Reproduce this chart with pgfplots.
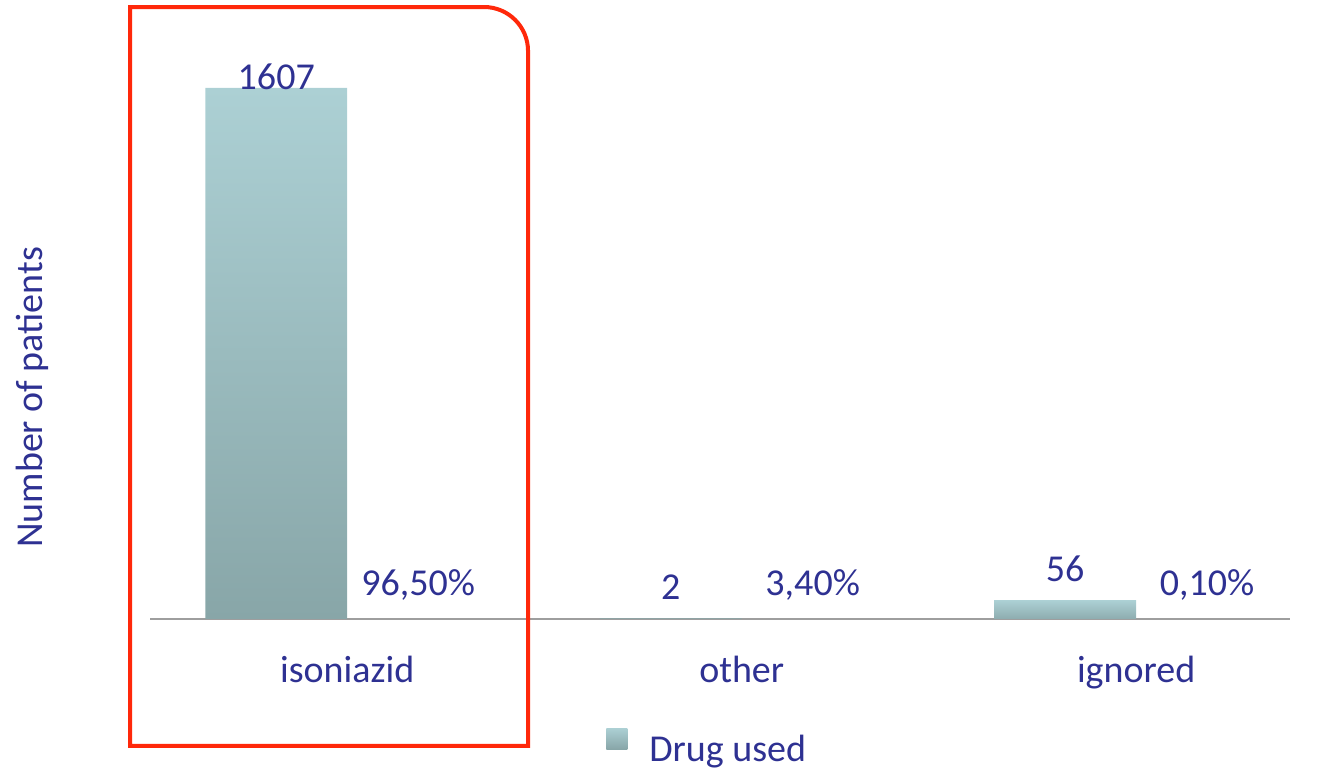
\documentclass[border=0pt]{standalone}
\usepackage{fontspec}
\setmainfont{Carlito}
\usepackage{pgfplots}
\pgfplotsset{compat=1.18}
\definecolor{txtblue}{RGB}{46,49,146}
\definecolor{barTop}{RGB}{172,208,212}
\definecolor{barBot}{RGB}{136,166,168}
\definecolor{boxred}{RGB}{255,40,10}
\newcommand\fs{\fontsize{19}{23}\selectfont}

\begin{document}
\begin{tikzpicture}
\begin{axis}[
    scale only axis,
    width=570pt, height=299.5pt,
    xmin=-0.5, xmax=2.39,
    ymin=0, ymax=1812,
    ybar=0pt, bar width=71pt,
    axis x line*=bottom,
    axis y line*=left,
    x axis line style={draw=black!38, line width=0.8pt},
    y axis line style={draw=none},
    xtick={0,1,2},
    xticklabels={isoniazid,other,ignored},
    xtick style={draw=none},
    ytick=\empty,
    tick label style={font=\fs, text=txtblue},
    xticklabel style={yshift=-11pt},
    ylabel={Number of patients},
    ylabel style={font=\fs, text=txtblue, at={(axis description cs:-0.1035,0.37)}, anchor=center},
    clip=false,
    nodes near coords,
    point meta=explicit symbolic,
    nodes near coords style={font=\fs, text=txtblue},
    legend style={at={(axis description cs:0.4896,-0.2163)}, anchor=center, draw=none,
        font=\fs, text=txtblue, fill=none},
    legend cell align=left,
]
% drug used (patients)
\addplot[draw=none, top color=barTop, bottom color=barBot, bar shift=-35.5pt,
    visualization depends on={y \as \rawy},
    nodes near coords style={yshift={ifthenelse(\rawy>1000,-4.5,6)}},
    legend image code/.code={\shade[top color=barTop, bottom color=barBot] (-19.5pt,0.5pt) rectangle (-9pt,11pt);
        \path (0pt,5pt);}]
    coordinates {(0,1607) [1607] (1,2) [2]};
\addlegendentry{Drug used}
\addplot[draw=none, top color=barTop, bottom color=barBot!85!barTop, bar shift=-35.5pt,
    nodes near coords style={yshift=6pt}, forget plot]
    coordinates {(2,56) [56]};
% percentage labels
\addplot[draw=none, fill=none, forget plot, bar shift=35.5pt,
    nodes near coords style={yshift=6pt}]
    coordinates {(0,0) [96,50\%] (1,0) [3,40\%] (2,0) [0,10\%]};
\coordinate (bl) at (axis description cs:-0.1316,-0.2504);
\coordinate (tr) at (axis description cs:1.0246,1.0334);
\draw[boxred, line width=2pt]
    (axis description cs:-0.0175,-0.212) -- (axis description cs:-0.0175,1.0217)
    -- ([xshift=-22pt]axis description cs:0.3316,1.0217)
    arc[start angle=90, end angle=0, radius=22pt]
    -- (axis description cs:0.3316,-0.212) -- cycle;
\end{axis}
\pgfresetboundingbox
\path (bl) rectangle (tr);
\end{tikzpicture}
\end{document}
